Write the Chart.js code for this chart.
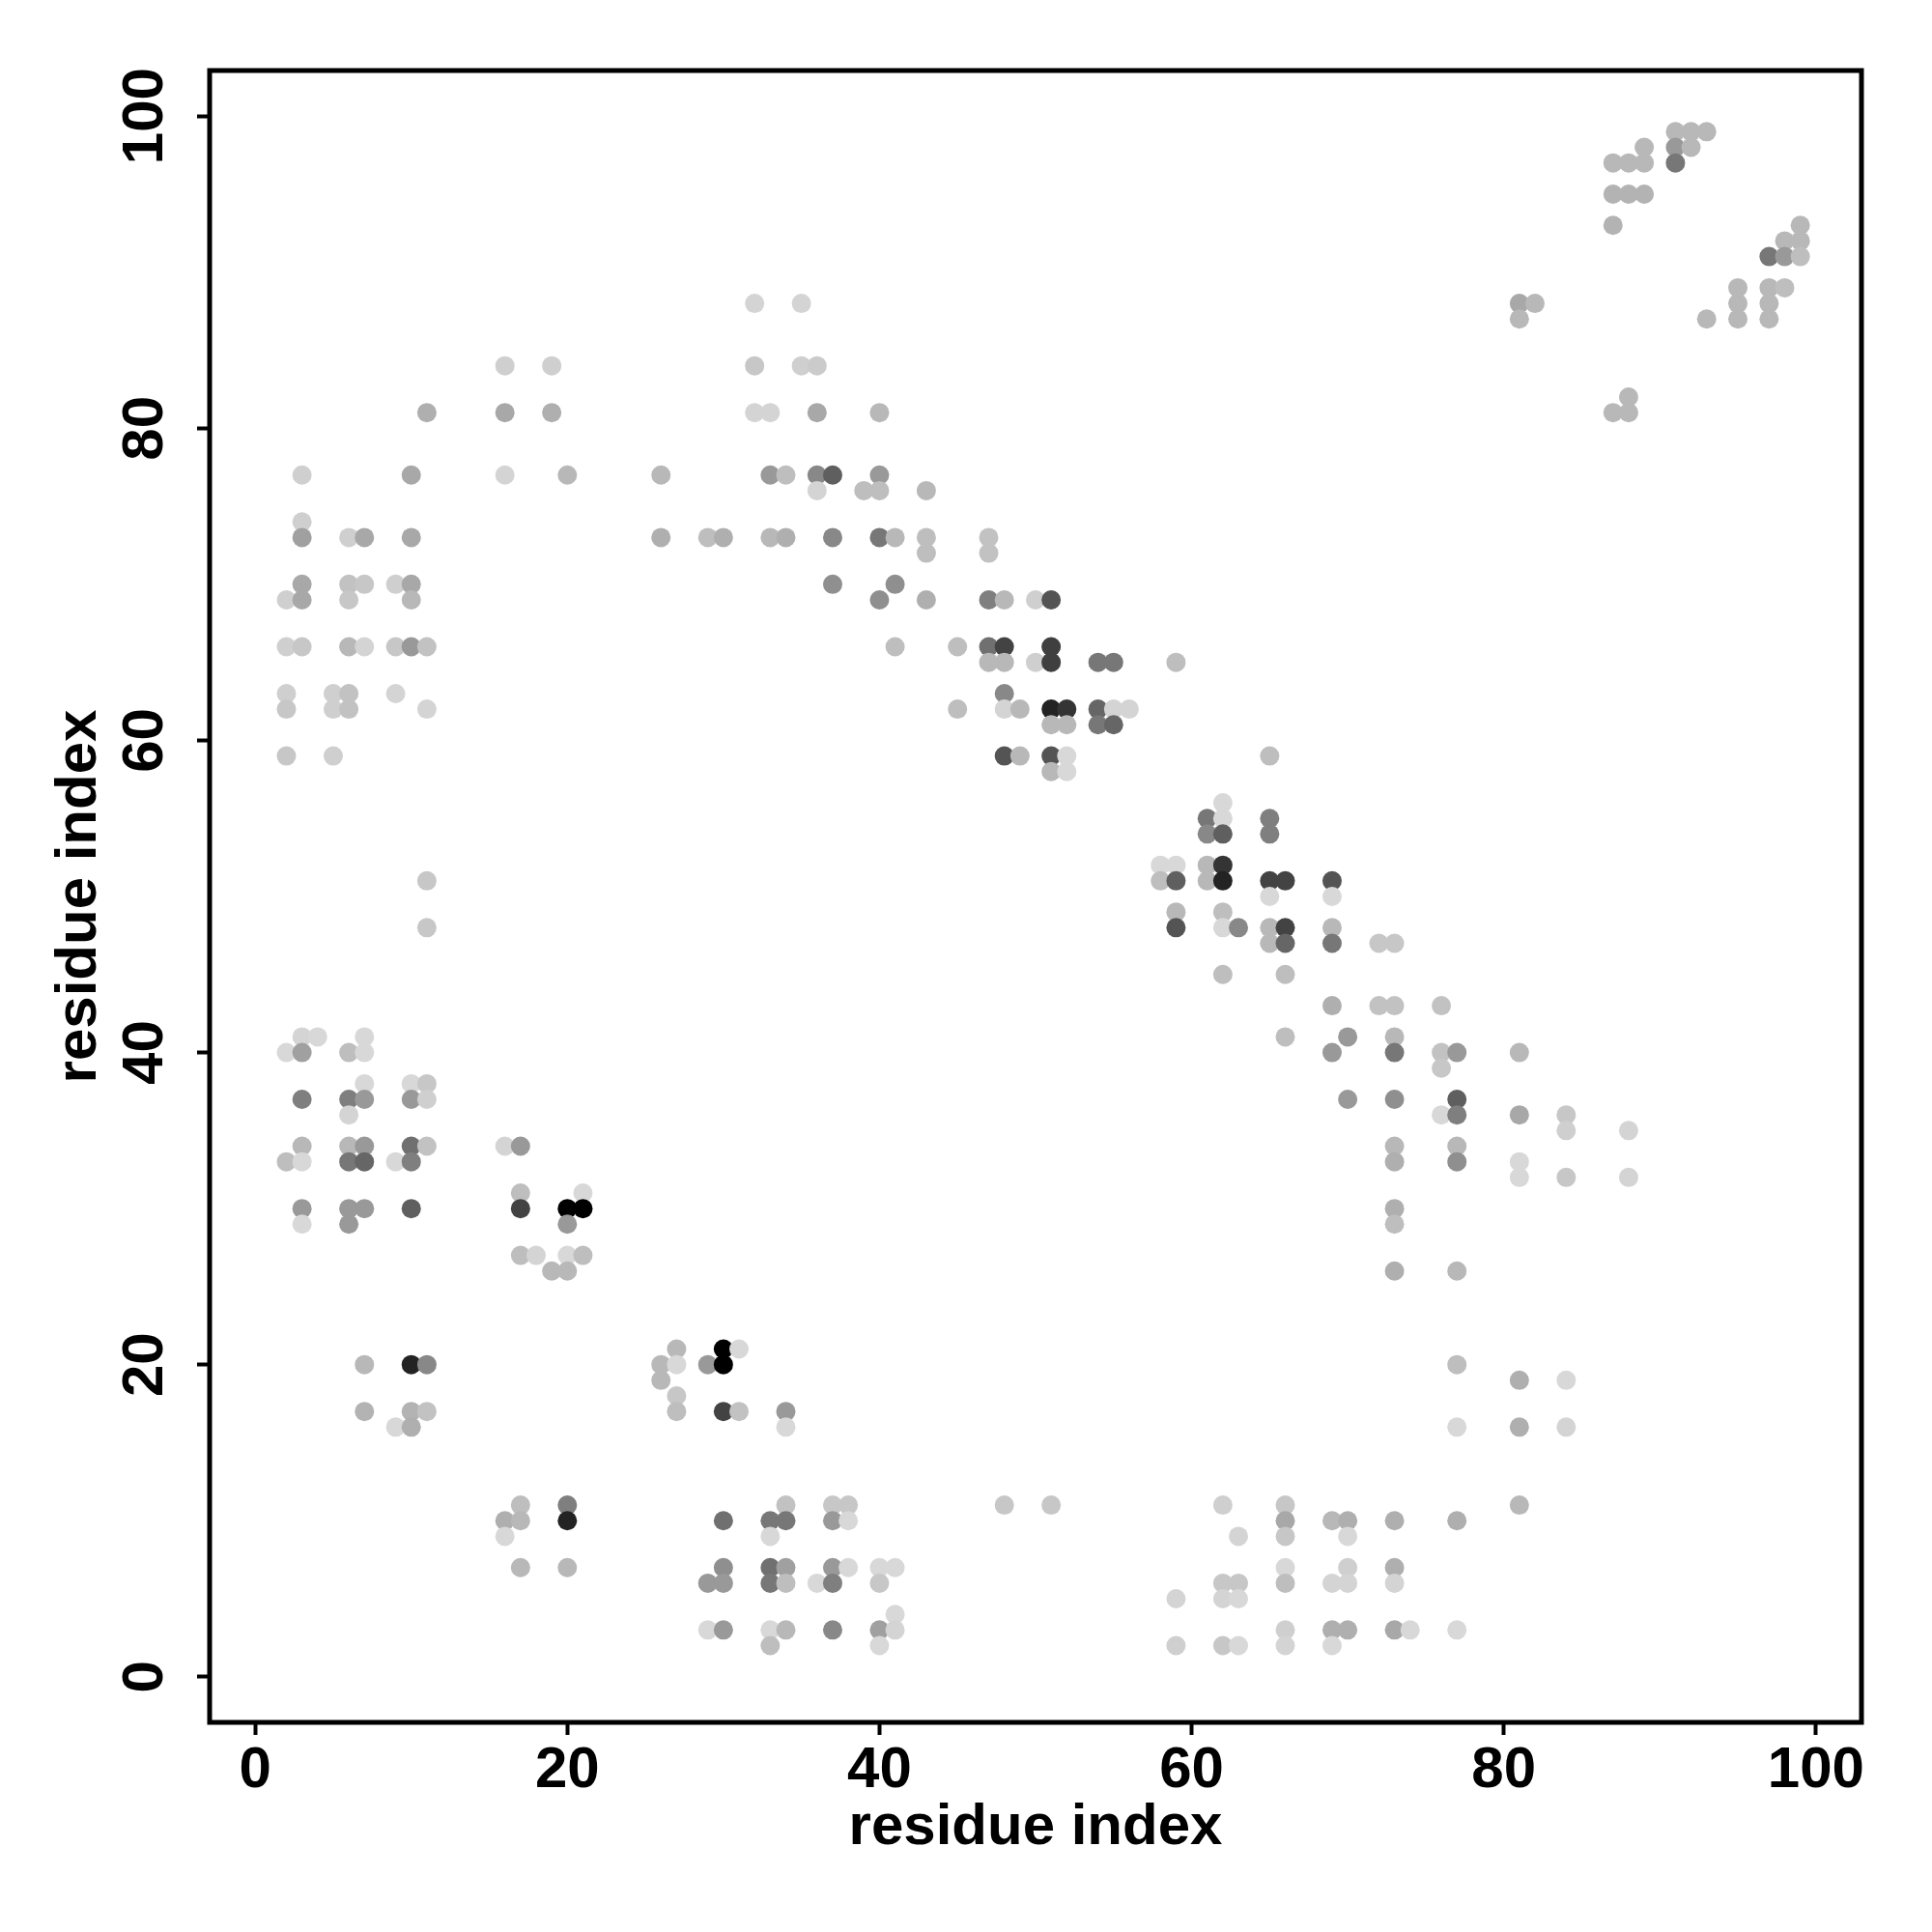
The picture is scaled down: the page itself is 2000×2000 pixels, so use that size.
<!DOCTYPE html>
<html>
<head>
<meta charset="utf-8">
<script src="https://cdn.jsdelivr.net/npm/chart.js@4"></script>
<style>
  body { margin: 0; background: #fff; }
  #wrap { width: 2000px; height: 2000px; }
</style>
</head>
<body>
<div id="wrap"><canvas id="contactChart" width="2000" height="2000"></canvas></div>
<script>
// contact map: residue i, residue j, contact strength (0 = faint, 1 = black)
const resI = [
  11,3,10,3,3,6,7,10,3,2,3,6,7,6,9,10,10,2,3,6,7,9,10,11,2,5,6,9,2,5,6,11,2,5,
  32,35,16,19,32,35,36,16,19,32,33,36,40,16,20,26,33,34,36,37,40,36,39,40,43,26,29,30,33,34,37,40,41,43,43,37,41,40,43,41,
  47,47,47,48,50,51,45,47,48,51,47,48,50,51,54,55,59,48,45,48,49,51,52,54,55,56,51,52,54,55,48,49,51,52,51,52,
  65,62,61,62,65,61,62,65,58,59,61,62,58,59,61,62,65,66,69,65,69,59,62,59,62,63,65,66,69,65,66,69,72,73,62,66,69,72,73,76,66,70,73,69,73,76,77,76,
  81,70,73,77,76,77,81,84,84,88,73,77,73,77,81,81,84,88,73,73,73,77,
  91,92,93,89,91,92,87,88,89,91,87,88,89,87,99,98,99,97,98,99,95,97,98,81,82,95,97,81,93,95,97,88,87,88,
  11,11,3,4,7,2,3,6,7,7,10,11,3,6,7,10,11,6,3,6,7,10,11,2,3,6,7,9,10,3,6,7,10,3,6,7,10,11,7,10,11,9,10,
  16,17,17,21,17,20,21,20,17,18,20,21,19,20,27,30,31,26,27,29,30,26,27,27,30,31,34,34,
  17,20,34,37,38,16,17,20,30,33,34,37,38,16,33,17,20,30,33,34,37,38,40,41,29,30,33,34,36,37,40,41,29,30,33,34,37,40,41,33,40,
  48,51,62,63,62,63,59,62,63,59,62,63,
  77,81,84,77,81,84,66,81,66,69,70,73,77,66,70,66,70,73,66,69,70,73,66,69,70,73,74,77,66,69
];
const resJ = [
  81,77,77,74,73,73,73,73,70,69,69,70,70,69,70,70,69,66,66,66,66,66,66,66,63,63,63,63,62,62,62,62,59,59,
  88,88,84,84,84,84,84,81,81,81,81,81,81,77,77,77,77,77,77,77,77,76,76,76,76,73,73,73,73,73,73,73,73,73,72,70,70,69,69,66,
  73,72,69,69,69,69,66,66,66,66,65,65,65,65,65,65,65,63,62,62,62,62,62,62,62,62,61,61,61,61,59,59,59,59,58,58,
  59,56,55,55,55,54,54,54,52,52,52,52,51,51,51,51,51,51,51,50,50,49,49,48,48,48,48,48,48,47,47,47,47,47,45,45,43,43,43,43,41,41,41,40,40,40,40,39,
  40,37,37,37,36,36,36,36,35,35,34,34,33,33,33,32,32,32,30,29,26,26,
  99,99,99,98,98,98,97,97,97,97,95,95,95,93,93,92,92,91,91,91,89,89,89,88,88,88,88,87,87,87,87,82,81,81,
  51,48,41,41,41,40,40,40,40,38,38,38,37,37,37,37,37,36,34,34,34,34,34,33,33,33,33,33,33,30,30,30,30,29,29,20,20,20,17,17,17,16,16,
  34,34,31,31,30,30,30,29,27,27,27,27,26,26,21,21,21,20,20,20,20,19,18,17,17,17,17,16,
  11,11,11,11,11,10,10,10,10,10,10,10,10,9,9,7,7,7,7,7,7,7,7,7,6,6,6,6,6,6,6,4,3,3,3,3,3,3,3,2,2,
  11,11,11,9,6,6,5,5,5,2,2,2,
  20,19,19,16,16,16,11,11,10,10,10,10,10,9,9,7,7,7,6,6,6,6,3,3,3,3,3,3,2,2
];
const prob = [
  0.19,0.04,0.22,0.04,0.26,0.04,0.22,0.22,0.22,0.04,0.22,0.1,0.08,0.08,0.04,0.22,0.15,0.04,0.08,0.15,0.02,0.08,0.29,0.1,0.04,0.04,0.1,0.02,0.08,0.04,0.1,0.02,0.08,0.04,
  0.02,0.02,0.04,0.04,0.08,0.04,0.06,0.22,0.19,0.02,0.02,0.22,0.15,0.02,0.15,0.15,0.29,0.12,0.37,0.56,0.29,0.02,0.12,0.12,0.15,0.19,0.12,0.19,0.15,0.19,0.37,0.45,0.15,0.12,0.12,0.34,0.34,0.34,0.19,0.12,
  0.1,0.1,0.41,0.15,0.04,0.61,0.12,0.48,0.69,0.71,0.15,0.15,0.04,0.71,0.45,0.45,0.12,0.37,0.12,0.02,0.15,0.84,0.76,0.53,0.02,0.02,0.15,0.15,0.45,0.53,0.61,0.15,0.61,0.0,0.15,0.0,
  0.12,0.0,0.45,0.0,0.41,0.37,0.56,0.41,0.0,0.0,0.15,0.76,0.12,0.56,0.15,0.84,0.69,0.69,0.61,0.0,0.0,0.15,0.12,0.61,0.0,0.37,0.15,0.69,0.15,0.15,0.53,0.45,0.08,0.08,0.12,0.12,0.19,0.1,0.1,0.1,0.12,0.29,0.15,0.29,0.45,0.1,0.29,0.08,
  0.15,0.29,0.34,0.56,0.0,0.41,0.22,0.08,0.04,0.02,0.15,0.15,0.19,0.34,0.0,0.0,0.08,0.02,0.19,0.12,0.19,0.15,
  0.15,0.15,0.15,0.15,0.29,0.15,0.15,0.15,0.15,0.45,0.17,0.17,0.17,0.17,0.15,0.15,0.15,0.45,0.29,0.12,0.15,0.15,0.12,0.22,0.15,0.15,0.15,0.15,0.15,0.15,0.15,0.15,0.15,0.15,
  0.08,0.08,0.02,0.0,0.0,0.0,0.26,0.12,0.0,0.0,0.0,0.08,0.41,0.41,0.29,0.29,0.04,0.02,0.15,0.15,0.29,0.48,0.1,0.12,0.0,0.45,0.53,0.0,0.41,0.29,0.29,0.29,0.56,0.0,0.29,0.15,0.84,0.37,0.17,0.17,0.1,0.0,0.19,
  0.02,0.29,0.12,0.0,0.69,1.0,1.0,0.29,0.12,0.02,0.0,0.12,0.15,0.15,0.15,1.0,0.0,0.15,0.0,0.29,1.0,0.15,0.08,0.12,0.69,0.1,0.29,0.0,
  0.12,0.41,0.1,0.08,0.08,0.19,0.15,0.84,0.48,0.45,0.45,0.29,0.0,0.0,0.0,0.15,0.15,0.34,0.48,0.26,0.29,0.0,0.0,0.0,0.29,0.29,0.45,0.12,0.0,0.41,0.08,0.0,0.0,0.29,0.0,0.15,0.37,0.26,0.02,0.12,0.0,
  0.08,0.08,0.04,0.02,0.08,0.08,0.02,0.02,0.0,0.04,0.08,0.0,
  0.12,0.19,0.0,0.0,0.19,0.02,0.08,0.15,0.22,0.15,0.19,0.19,0.19,0.08,0.0,0.0,0.04,0.19,0.12,0.02,0.02,0.02,0.04,0.19,0.19,0.22,0.0,0.0,0.02,0.0
];
const tickValues = [0, 20, 40, 60, 80, 100];
const axisTitle = 'residue index';

const grayFor = (p) => {
    const g = Math.round(216 * (1 - p));
    return `rgb(${g},${g},${g})`;
};

const points = resI.map((x, k) => ({ x: x, y: resJ[k] }));

const boxPlugin = {
    id: 'box',
    afterDatasetsDraw(chart) {
        const { ctx, chartArea } = chart;
        ctx.save();
        ctx.strokeStyle = '#000';
        ctx.lineWidth = 5;
        ctx.strokeRect(chartArea.left, chartArea.top, chartArea.right - chartArea.left, chartArea.bottom - chartArea.top);
        ctx.restore();
    }
};

const font = { family: 'Liberation Sans', size: 60, weight: 'bold' };

const makeScale = (isX) => ({
    type: 'linear',
    min: -2.92,
    max: 102.92,
    afterBuildTicks: (scale) => {
        scale.ticks = tickValues.map((v) => ({ value: v }));
    },
    afterFit: (scale) => {
        if (isX) scale.height = 2000 - 1783;
        else scale.width = 217;
    },
    grid: {
        drawOnChartArea: false,
        drawTicks: true,
        tickLength: 13,
        tickWidth: 4,
        tickColor: '#000'
    },
    border: { display: false },
    ticks: {
        color: '#000',
        font: font,
        padding: isX ? 1 : 2,
        minRotation: isX ? 0 : 90,
        maxRotation: isX ? 0 : 90,
        crossAlign: isX ? 'near' : 'center',
        includeBounds: false,
        callback: (v) => String(v)
    },
    title: {
        display: true,
        text: axisTitle,
        color: '#000',
        font: font,
        padding: isX ? { top: 0, bottom: 72 } : { top: 46, bottom: 0 }
    }
});

new Chart(document.getElementById('contactChart'), {
    type: 'scatter',
    data: {
        datasets: [{
            data: points,
            pointRadius: 10,
            pointHoverRadius: 10,
            pointBorderWidth: 0,
            pointBackgroundColor: (c) => grayFor(prob[c.dataIndex]),
            pointBorderColor: 'rgba(0,0,0,0)'
        }]
    },
    options: {
        responsive: false,
        animation: false,
        devicePixelRatio: 1,
        layout: { padding: { top: 73, right: 73, left: 0, bottom: 0 } },
        scales: { x: makeScale(true), y: makeScale(false) },
        plugins: { legend: { display: false }, tooltip: { enabled: false } }
    },
    plugins: [boxPlugin]
});
</script>
</body>
</html>
